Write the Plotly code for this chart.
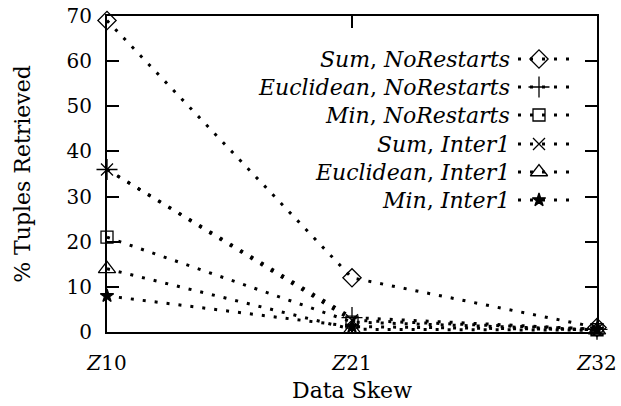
import plotly.graph_objects as go

categories = ["Z10", "Z21", "Z32"]
tick_labels = ["<i>Z</i>10", "<i>Z</i>21", "<i>Z</i>32"]
series_names = [
    "<i>Sum</i>, <i>NoRestarts</i>",
    "<i>Euclidean</i>, <i>NoRestarts</i>",
    "<i>Min</i>, <i>NoRestarts</i>",
    "<i>Sum</i>, <i>Inter1</i>",
    "<i>Euclidean</i>, <i>Inter1</i>",
    "<i>Min</i>, <i>Inter1</i>",
]
sum_norestarts = [69, 12, 1]
euclid_norestarts = [36, 3.2, 0.6]
min_norestarts = [21, 2.2, 0.5]
sum_inter1 = [36, 2.6, 0.6]
euclid_inter1 = [14, 0.6, 0.4]
min_inter1 = [8, 1.2, 0.5]
series_values = [sum_norestarts, euclid_norestarts, min_norestarts,
                 sum_inter1, euclid_inter1, min_inter1]
symbols = ["diamond-open", "cross-thin-open", "square-open",
           "x-thin-open", "triangle-up-open", "star"]
sizes = [14, 15, 12, 12, 15, 10]

FONT = "DejaVu Serif"
DASH = "3px,9px"
xpos = list(range(len(categories)))

fig = go.Figure()
for name, vals, sym, sz in zip(series_names, series_values, symbols, sizes):
    fig.add_trace(go.Scatter(
        x=xpos, y=vals, mode="lines+markers", name=name, showlegend=False,
        line=dict(color="black", width=3, dash=DASH),
        marker=dict(symbol=sym, size=sz, color="black",
                    line=dict(color="black", width=1.3)),
        cliponaxis=False,
    ))

# manual legend (text right, sample on the right) in pixel-like overlay axes
leg_rows = [59, 87, 115, 144, 172, 200]
for name, sym, sz, yy in zip(series_names, symbols, sizes, leg_rows):
    fig.add_trace(go.Scatter(
        x=[518, 575], y=[yy, yy], mode="lines", xaxis="x2", yaxis="y2",
        showlegend=False, hoverinfo="skip",
        line=dict(color="black", width=3, dash=DASH)))
    fig.add_trace(go.Scatter(
        x=[539], y=[yy], mode="markers", xaxis="x2", yaxis="y2",
        showlegend=False, hoverinfo="skip",
        marker=dict(symbol=sym, size=sz, color="black",
                    line=dict(color="black", width=1.3))))
    fig.add_annotation(x=512, y=yy, xref="x2", yref="y2", text=name,
                       showarrow=False, xanchor="right", yanchor="middle",
                       font=dict(family=FONT, size=22, color="black"))

fig.update_layout(
    width=621, height=406,
    margin=dict(l=107, r=24, t=16, b=74),
    paper_bgcolor="white", plot_bgcolor="white",
    font=dict(family=FONT, size=18, color="black"),
    xaxis=dict(range=[0, 2], tickvals=xpos, ticktext=tick_labels,
               showline=True, linecolor="black", linewidth=2, mirror="ticks",
               ticks="inside", ticklen=12, tickwidth=2, tickcolor="black",
               showgrid=False, zeroline=False, ticklabelstandoff=12,
               automargin=False, tickfont=dict(size=20),
               title=dict(text="Data Skew", standoff=9)),
    yaxis=dict(range=[0, 70], tickvals=[0, 10, 20, 30, 40, 50, 60, 70],
               showline=True, linecolor="black", linewidth=2, mirror="ticks",
               ticks="inside", ticklen=12, tickwidth=2, tickcolor="black",
               showgrid=False, zeroline=False, ticklabelstandoff=9,
               automargin=False, tickfont=dict(size=20),
               title=dict(text="% Tuples Retrieved", standoff=30)),
    xaxis2=dict(range=[107, 597], overlaying="x", visible=False),
    yaxis2=dict(range=[332, 16], overlaying="y", visible=False),
)

fig.write_html("out.html")
